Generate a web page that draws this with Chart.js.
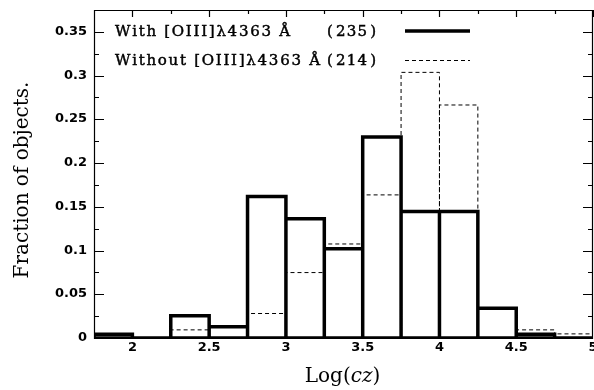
<!DOCTYPE html>
<html>
<head>
<meta charset="utf-8">
<script src="https://cdn.jsdelivr.net/npm/chart.js@4/dist/chart.umd.min.js"></script>
<style>
  html, body { margin: 0; padding: 0; background: #fff; }
  canvas { display: block; }
</style>
</head>
<body>
<canvas id="hist" width="594" height="390"></canvas>
<script>
// Histogram bins in Log(cz), each 0.25 wide
const binStarts = [1.75, 2.0, 2.25, 2.5, 2.75, 3.0, 3.25, 3.5, 3.75, 4.0, 4.25, 4.5, 4.75];
const binWidth = 0.25;

// Fraction of objects per bin
const withLine    = [0.0043, 0, 0.0255, 0.0128, 0.1617, 0.1362, 0.1021, 0.2298, 0.1447, 0.1447, 0.0340, 0.0043, 0];
const withoutLine = [0, 0, 0.0093, 0, 0.0280, 0.0748, 0.1075, 0.1636, 0.3037, 0.2664, 0.0327, 0.0093, 0.0047];

// Axis ticks
const xTicks = [2, 2.5, 3, 3.5, 4, 4.5, 5];
const xTickLabels = ['2', '2.5', '3', '3.5', '4', '4.5', '5'];
const xMinorTicks = [2.25, 2.75, 3.25, 3.75, 4.25, 4.75];
const yTicks = [0, 0.05, 0.1, 0.15, 0.2, 0.25, 0.3, 0.35];
const yTickLabels = ['0', '0.05', '0.1', '0.15', '0.2', '0.25', '0.3', '0.35'];
const yMinorTicks = [0.025, 0.075, 0.125, 0.175, 0.225, 0.275, 0.325];

// Legend entries
const seriesLabels = ['With [OIII]\u03bb4363 \u00c5', 'Without [OIII]\u03bb4363 \u00c5'];
const seriesCounts = ['(235)', '(214)'];

// Rectangle outlines of the bins, separated by gaps
function binOutlines(values, withBaseline) {
  const pts = [];
  const xEnd = binStarts[binStarts.length - 1] + binWidth;
  if (withBaseline) {
    pts.push({x: binStarts[0], y: 0}, {x: xEnd, y: 0}, {x: xEnd, y: null});
  }
  values.forEach((v, i) => {
    if (v <= 0) return;
    const lo = binStarts[i], hi = lo + binWidth;
    pts.push({x: lo, y: 0}, {x: lo, y: v}, {x: hi, y: v}, {x: hi, y: 0}, {x: hi, y: null});
  });
  return pts;
}

// Draw a string with fixed-width character cells
function drawCells(ctx, text, x, y, cell) {
  ctx.textAlign = 'center';
  [...text].forEach((ch, i) => {
    if (ch !== ' ') {
      ctx.fillText(ch, x + cell * (i + 0.5), y);
      ctx.strokeText(ch, x + cell * (i + 0.5), y);
    }
  });
}

// Draw a string stretched (by letter spacing) to a given width
function drawSpread(ctx, text, x, y, width) {
  ctx.textAlign = 'left';
  const chars = [...text];
  const w = chars.reduce((s, ch) => s + ctx.measureText(ch).width, 0);
  const gap = (width - w) / (chars.length - 1);
  let px = x;
  chars.forEach(ch => {
    ctx.fillText(ch, px, y);
    ctx.strokeText(ch, px, y);
    px += ctx.measureText(ch).width + gap;
  });
}

const framePlugin = {
  id: 'frame',
  beforeDatasetsDraw(chart) {
    const {ctx, chartArea: a, scales: {x, y}} = chart;
    ctx.save();
    ctx.strokeStyle = '#000';
    ctx.lineWidth = 1.2;
    ctx.beginPath();
    ctx.rect(a.left + 0.5, a.top + 0.5, a.right - a.left - 1, a.bottom - a.top);
    ctx.stroke();

    ctx.beginPath();
    // left / right ticks
    yTicks.forEach(v => {
      const py = Math.round(y.getPixelForValue(v)) + 0.5;
      ctx.moveTo(a.left, py); ctx.lineTo(a.left + 10, py);
      ctx.moveTo(a.right, py); ctx.lineTo(a.right - 10, py);
    });
    yMinorTicks.forEach(v => {
      const py = Math.round(y.getPixelForValue(v)) + 0.5;
      ctx.moveTo(a.left, py); ctx.lineTo(a.left + 5, py);
      ctx.moveTo(a.right, py); ctx.lineTo(a.right - 5, py);
    });
    // top ticks
    xTicks.forEach(v => {
      const px = Math.round(x.getPixelForValue(v)) + 0.5;
      ctx.moveTo(px, a.top); ctx.lineTo(px, a.top + 7);
    });
    xMinorTicks.forEach(v => {
      const px = Math.round(x.getPixelForValue(v)) + 0.5;
      ctx.moveTo(px, a.top); ctx.lineTo(px, a.top + 4);
    });
    ctx.stroke();
    ctx.restore();
  },
  afterDraw(chart) {
    const {ctx, chartArea: a, scales: {x, y}} = chart;
    ctx.save();
    ctx.fillStyle = '#000';
    ctx.strokeStyle = '#000';

    // tick labels, slightly widened
    ctx.font = 'bold 12px "DejaVu Sans"';
    ctx.textBaseline = 'middle';
    yTicks.forEach((v, i) => {
      ctx.save();
      ctx.translate(a.left - 7, y.getPixelForValue(v));
      ctx.scale(1.08, 1);
      ctx.textAlign = 'right';
      ctx.fillText(yTickLabels[i], 0, 0);
      ctx.restore();
    });
    xTicks.forEach((v, i) => {
      ctx.save();
      ctx.translate(x.getPixelForValue(v), a.bottom + 10);
      ctx.scale(1.08, 1);
      ctx.textAlign = 'center';
      ctx.fillText(xTickLabels[i], 0, 0);
      ctx.restore();
    });

    // y axis title
    ctx.textBaseline = 'alphabetic';
    ctx.font = '20px "DejaVu Serif"';
    ctx.save();
    ctx.translate(27.5, 180);
    ctx.rotate(-Math.PI / 2);
    ctx.textAlign = 'center';
    ctx.fillText('Fraction of objects.', 0, 0);
    ctx.restore();

    // x axis title: Log(cz) with italic cz
    const baseY = 382;
    const parts = [['Log(', '20px "DejaVu Serif"'], ['cz', 'italic 20px "DejaVu Serif"'], [')', '20px "DejaVu Serif"']];
    let total = 0;
    parts.forEach(([t, f]) => { ctx.font = f; total += ctx.measureText(t).width; });
    let px = 342.5 - total / 2;
    ctx.textAlign = 'left';
    parts.forEach(([t, f]) => { ctx.font = f; ctx.fillText(t, px, baseY); px += ctx.measureText(t).width; });

    // legend
    ctx.font = '15px "DejaVu Serif"';
    ctx.lineWidth = 0.45;
    const rowY = [a.top + 26, a.top + 55];
    drawSpread(ctx, seriesLabels[0], a.left + 21, rowY[0], 175);
    drawSpread(ctx, seriesLabels[1], a.left + 21, rowY[1], 205);
    seriesCounts.forEach((c, i) => drawCells(ctx, c, a.left + 230.5, rowY[i], 10.8));

    ctx.lineCap = 'butt';
    ctx.lineWidth = 3.5;
    ctx.beginPath();
    ctx.moveTo(a.left + 311, a.top + 21); ctx.lineTo(a.left + 376, a.top + 21);
    ctx.stroke();
    ctx.lineWidth = 1;
    ctx.setLineDash([4, 3]);
    ctx.beginPath();
    ctx.moveTo(a.left + 311, a.top + 50.5); ctx.lineTo(a.left + 376, a.top + 50.5);
    ctx.stroke();
    ctx.restore();
  }
};

new Chart(document.getElementById('hist'), {
  type: 'line',
  data: {
    datasets: [
      {
        label: seriesLabels[1],
        data: binOutlines(withoutLine, false),
        borderColor: '#000',
        borderWidth: 1,
        borderDash: [4, 3],
        borderJoinStyle: 'miter',
        fill: false,
        pointRadius: 0,
        spanGaps: false,
        order: 0
      },
      {
        label: seriesLabels[0],
        data: binOutlines(withLine, true),
        borderColor: '#000',
        borderWidth: 3.5,
        borderJoinStyle: 'miter',
        borderCapStyle: 'square',
        fill: false,
        pointRadius: 0,
        spanGaps: false,
        order: 1
      }
    ]
  },
  options: {
    responsive: false,
    animation: false,
    devicePixelRatio: 1,
    layout: { padding: { left: 94, top: 10, right: 1, bottom: 52 } },
    plugins: { legend: { display: false }, tooltip: { enabled: false } },
    scales: {
      x: { type: 'linear', min: 1.75, max: 5, display: false },
      y: { type: 'linear', min: 0, max: 0.375, display: false }
    }
  },
  plugins: [framePlugin]
});
</script>
</body>
</html>
